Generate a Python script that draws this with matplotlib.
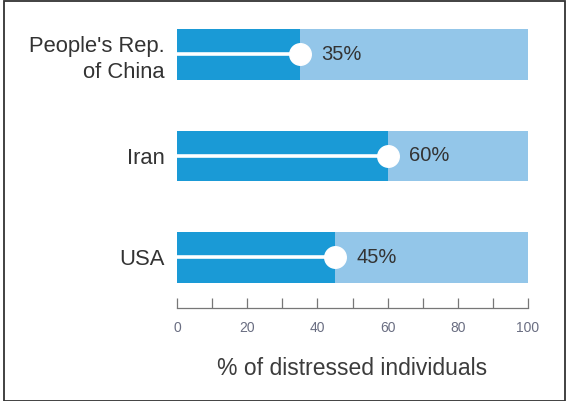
import matplotlib
matplotlib.use("Agg")
import matplotlib.pyplot as plt
from matplotlib.patches import Rectangle
from matplotlib.ticker import MultipleLocator

countries = ["People's Rep.\nof China", "Iran", "USA"]
values = [35, 60, 45]
total = 100
xticks = [0, 20, 40, 60, 80, 100]
xlabel = "% of distressed individuals"

plt.rcParams['font.family'] = ['Liberation Sans', 'DejaVu Sans']

W, H = 566, 401
fig = plt.figure(figsize=(W / 100, H / 100), dpi=100)
ax = fig.add_axes([177 / W, (H - 308) / H, 351 / W, 288 / H])

dark = "#1a9ad6"
light = "#93c6e9"
ypos = list(range(len(countries)))

ax.barh(ypos, [total] * len(values), height=0.5, color=light, zorder=1)
ax.barh(ypos, values, height=0.5, color=dark, zorder=2)
for y, v in zip(ypos, values):
    ax.plot([0, v], [y, y], color="white", lw=2.6, zorder=3, solid_capstyle="butt")
    ax.plot([v], [y], marker="o", ms=15.5, color="white", mec="white", zorder=4)
    ax.text(v + 6, y, f"{v}%", va="center", ha="left", fontsize=14.5, color="#333333", zorder=5)

ax.set_xlim(0, 100)
ax.set_ylim(2.5, -0.34)
ax.set_yticks(ypos)
ax.set_yticklabels(countries, fontsize=15.8, color="#333333", linespacing=1.3)
ax.tick_params(axis="y", length=0, pad=9)
for lab in ax.get_yticklabels():
    lab.set_ha("right")

ax.set_xticks(xticks)
ax.xaxis.set_minor_locator(MultipleLocator(10))
ax.tick_params(axis="x", which="both", direction="in", length=7.5, width=0.9, color="#777777",
               labelsize=10, labelcolor="#6a6e82", pad=9)
ax.set_xlabel(xlabel, fontsize=16.5, color="#3c3c3c", labelpad=16)

for s in ["top", "right", "left"]:
    ax.spines[s].set_visible(False)
ax.spines["bottom"].set_color("#777777")
ax.spines["bottom"].set_linewidth(0.9)

fig.patches.append(Rectangle((3.5 / W, 0.5 / H), (565 - 3.5) / W, (400 - 0.5) / H,
                             transform=fig.transFigure, fill=False, ec="#333333", lw=1.3))

fig.savefig("out.png", dpi=100, facecolor="white")
